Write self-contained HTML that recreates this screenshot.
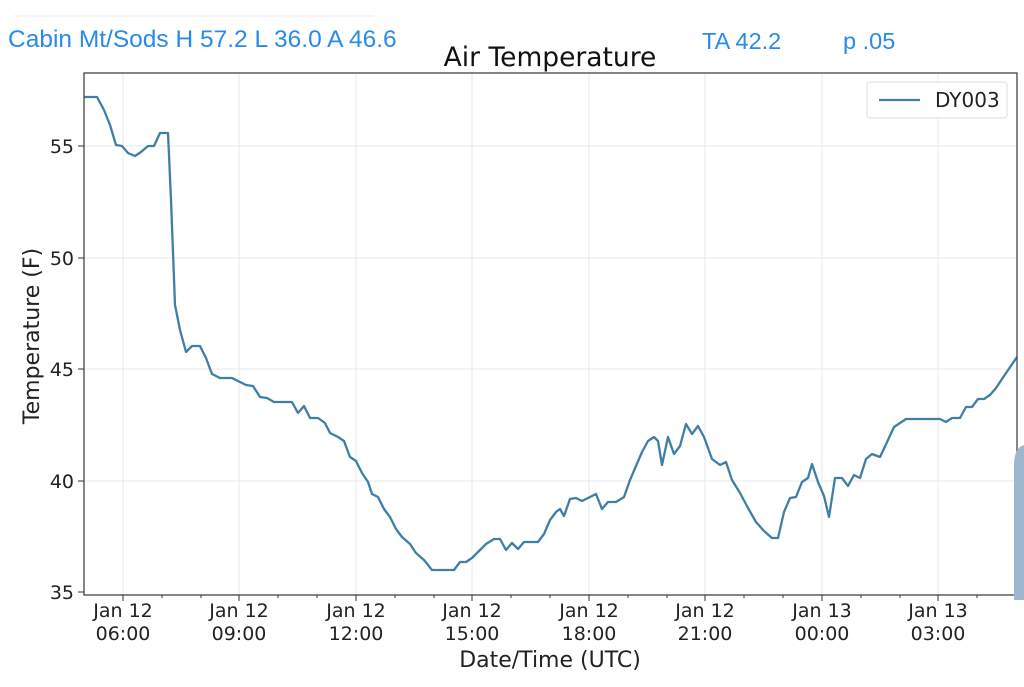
<!DOCTYPE html>
<html><head><meta charset="utf-8"><style>
body{margin:0;background:#fff;width:1024px;height:683px;overflow:hidden;font-family:"DejaVu Sans","Liberation Sans",sans-serif}
</style></head><body>
<svg width="1024" height="683" viewBox="0 0 1024 683" xmlns="http://www.w3.org/2000/svg">
<line x1="14" y1="16" x2="374" y2="16" stroke="#eee" stroke-width="1"/>
<text x="8" y="47" font-family="Liberation Sans, sans-serif" font-size="24.5" fill="#2a8ae8">Cabin Mt/Sods H 57.2 L 36.0 A 46.6</text>
<text x="702" y="49" font-family="Liberation Sans, sans-serif" font-size="23.5" fill="#2a8ae8">TA 42.2</text>
<text x="843" y="49" font-family="Liberation Sans, sans-serif" font-size="23.5" fill="#2a8ae8">p .05</text>
<text x="550" y="66" text-anchor="middle" font-size="26.5" fill="#111">Air Temperature</text>
<g stroke="#e8e8e8" stroke-width="1">
<line x1="123" y1="73" x2="123" y2="595"/><line x1="239" y1="73" x2="239" y2="595"/><line x1="356" y1="73" x2="356" y2="595"/><line x1="472" y1="73" x2="472" y2="595"/><line x1="589" y1="73" x2="589" y2="595"/><line x1="705" y1="73" x2="705" y2="595"/><line x1="822" y1="73" x2="822" y2="595"/><line x1="938" y1="73" x2="938" y2="595"/>
<line x1="84" y1="146" x2="1017" y2="146"/><line x1="84" y1="258" x2="1017" y2="258"/><line x1="84" y1="369" x2="1017" y2="369"/><line x1="84" y1="481" x2="1017" y2="481"/>
</g>
<polyline fill="none" stroke="#3f7fa6" stroke-width="2.3" stroke-linejoin="round" points="84,97 97,97 104,110 110,125 116,145 122,146 128,153 135,156 141,152 148,146 154,146 160,133 168,133 171,200 175,305 180,330 186,352 192,346 200,346 206,358 212,374 220,378 232,378 240,382 246,385 253,386 260,397 267,398 274,402 292,402 298,413 304,406 310,418 318,418 325,423 330,433 338,437 344,441 350,457 356,461 362,473 368,482 372,494 378,497 384,509 390,517 396,529 402,537 410,544 416,553 424,560 432,570 440,570 454,570 460,562 466,562 472,558 478,552 486,544 494,539 500,539 506,550 512,543 518,549 524,542 538,542 544,534 550,520 556,512 560,509 564,516 570,499 576,498 582,501 590,497 596,494 602,509 608,502 616,502 624,497 630,480 636,466 642,452 648,441 654,437 658,441 662,465 668,437 674,454 680,446 686,424 692,434 698,426 704,437 712,459 720,465 726,462 732,480 740,493 748,508 756,522 764,531 772,538 778,538 784,512 790,498 796,497 802,482 808,478 812,464 818,482 824,496 829,517 835,478 842,478 848,486 854,475 860,478 866,459 872,454 880,457 888,440 894,427 900,423 906,419 940,419 946,422 952,418 960,418 966,407 972,407 978,399 984,399 990,395 996,388 1004,376 1017,357"/>
<rect x="84" y="73" width="933" height="522" fill="none" stroke="#444" stroke-width="1.3"/>
<g stroke="#333" stroke-width="1">
<line x1="78" y1="146" x2="84" y2="146"/><line x1="78" y1="258" x2="84" y2="258"/><line x1="78" y1="369" x2="84" y2="369"/><line x1="78" y1="481" x2="84" y2="481"/><line x1="78" y1="592" x2="84" y2="592"/>
<line x1="123" y1="595" x2="123" y2="601"/><line x1="239" y1="595" x2="239" y2="601"/><line x1="356" y1="595" x2="356" y2="601"/><line x1="472" y1="595" x2="472" y2="601"/><line x1="589" y1="595" x2="589" y2="601"/><line x1="705" y1="595" x2="705" y2="601"/><line x1="822" y1="595" x2="822" y2="601"/><line x1="938" y1="595" x2="938" y2="601"/>
<line x1="162" y1="595" x2="162" y2="598"/><line x1="201" y1="595" x2="201" y2="598"/><line x1="278" y1="595" x2="278" y2="598"/><line x1="317" y1="595" x2="317" y2="598"/><line x1="395" y1="595" x2="395" y2="598"/><line x1="434" y1="595" x2="434" y2="598"/><line x1="511" y1="595" x2="511" y2="598"/><line x1="550" y1="595" x2="550" y2="598"/><line x1="628" y1="595" x2="628" y2="598"/><line x1="667" y1="595" x2="667" y2="598"/><line x1="744" y1="595" x2="744" y2="598"/><line x1="783" y1="595" x2="783" y2="598"/><line x1="861" y1="595" x2="861" y2="598"/><line x1="900" y1="595" x2="900" y2="598"/><line x1="977" y1="595" x2="977" y2="598"/><line x1="1016" y1="595" x2="1016" y2="598"/>
</g>
<g font-size="19" fill="#222" text-anchor="end">
<text x="74" y="153">55</text><text x="74" y="265">50</text><text x="74" y="376">45</text><text x="74" y="488">40</text><text x="74" y="599">35</text>
</g>
<g font-size="19" fill="#222" text-anchor="middle">
<text x="123" y="617">Jan 12</text><text x="123" y="640">06:00</text>
<text x="239" y="617">Jan 12</text><text x="239" y="640">09:00</text>
<text x="356" y="617">Jan 12</text><text x="356" y="640">12:00</text>
<text x="472" y="617">Jan 12</text><text x="472" y="640">15:00</text>
<text x="589" y="617">Jan 12</text><text x="589" y="640">18:00</text>
<text x="705" y="617">Jan 12</text><text x="705" y="640">21:00</text>
<text x="822" y="617">Jan 13</text><text x="822" y="640">00:00</text>
<text x="938" y="617">Jan 13</text><text x="938" y="640">03:00</text>
</g>
<text x="550" y="667" text-anchor="middle" font-size="22" fill="#222">Date/Time (UTC)</text>
<text transform="translate(39,336) rotate(-90)" text-anchor="middle" font-size="22" fill="#222">Temperature (F)</text>
<rect x="867" y="82" width="140" height="36" rx="3" fill="#fff" stroke="#ddd"/>
<line x1="879" y1="100" x2="920" y2="100" stroke="#3f7fa6" stroke-width="2.3"/>
<text x="935" y="107" font-size="20" fill="#222">DY003</text>
<path d="M1024,445 L1020,447 Q1014,452 1014,465 L1014,600 L1024,600 Z" fill="#9fb6cf"/>
</svg>
</body></html>
